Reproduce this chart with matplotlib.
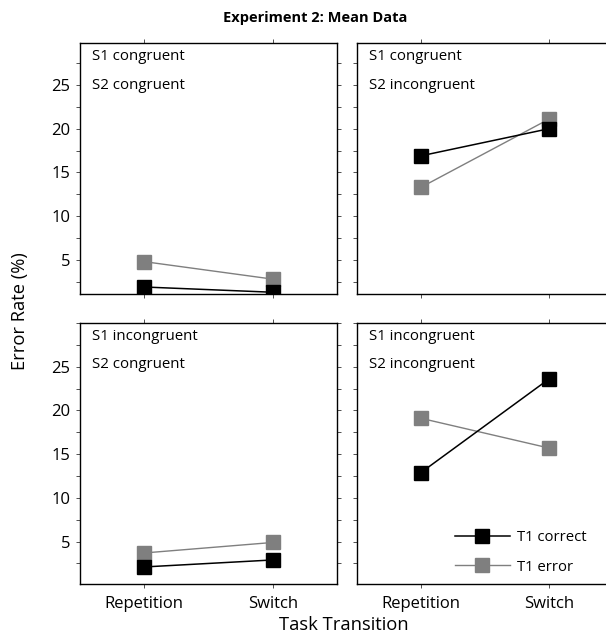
import numpy as np
import matplotlib
matplotlib.use('Agg')
import matplotlib.pyplot as plt
from matplotlib.ticker import MultipleLocator

plt.rcParams['font.family'] = ['Open Sans', 'DejaVu Sans']

# task transition categories
transitions = ['Repetition', 'Switch']

# panel labels (S1 / S2 congruency)
panel_labels = [('S1 congruent', 'S2 congruent'),
                ('S1 congruent', 'S2 incongruent'),
                ('S1 incongruent', 'S2 congruent'),
                ('S1 incongruent', 'S2 incongruent')]

# error rates (%) per panel: [repetition, switch]
t1_correct = [[1.9, 1.3],
              [16.9, 20.0],
              [2.1, 2.9],
              [12.9, 23.6]]
t1_error = [[4.8, 2.8],
            [13.3, 21.1],
            [3.7, 4.9],
            [19.1, 15.7]]

y_ticks = [5, 10, 15, 20, 25]

fig = plt.figure(figsize=(6.06, 6.4), dpi=100)

W, H = 606.0, 640.0
# (left, top, right, bottom) in pixels
boxes = [(80, 43, 337, 294),
         (357, 43, 613, 294),
         (80, 323, 337, 584),
         (357, 323, 613, 584)]
ylims = [(1.1, 29.8), (1.1, 29.8), (0.15, 30), (0.15, 30)]

x = np.arange(len(transitions))
axes = []
for i, (l, t, r, b) in enumerate(boxes):
    ax = fig.add_axes([l / W, 1 - b / H, (r - l) / W, (b - t) / H])
    axes.append(ax)
    ax.plot(x, t1_correct[i], '-s', color='black', lw=1.1, ms=10,
            mfc='black', mec='black', label='T1 correct', zorder=3)
    ax.plot(x, t1_error[i], '-s', color='#7f7f7f', lw=1.0, ms=10,
            mfc='#7f7f7f', mec='#7f7f7f', label='T1 error', zorder=2)
    ax.set_xlim(-0.5, 1.5)
    ax.set_ylim(*ylims[i])
    ax.yaxis.set_minor_locator(MultipleLocator(2.5))
    ax.set_yticks(y_ticks)
    ax.set_xticks(x)
    ax.tick_params(axis='both', which='both', direction='out', length=3,
                   width=0.6, labelsize=12, color='#333333')
    ax.tick_params(axis='x', top=True, pad=6)
    ax.tick_params(axis='y', right=True, which='both', pad=4)
    if i % 2 == 1:
        ax.set_yticklabels([])
    if i < 2:
        ax.set_xticklabels([])
    else:
        ax.set_xticklabels(transitions)
    for s in ax.spines.values():
        s.set_linewidth(1.0)
    ax.text(0.047, 0.945 if i < 2 else 0.95, panel_labels[i][0],
            transform=ax.transAxes, fontsize=10.8, va='center', ha='left')
    ax.text(0.047, 0.83 if i < 2 else 0.84, panel_labels[i][1],
            transform=ax.transAxes, fontsize=10.8, va='center', ha='left')

axes[3].legend(loc='lower left', bbox_to_anchor=(0.33, -0.015), frameon=False,
               fontsize=10.7, handlelength=3.7, handletextpad=0.5,
               labelspacing=0.95, numpoints=1)

fig.text(315 / W, 1 - 18 / H, 'Experiment 2: Mean Data', ha='center',
         va='center', fontsize=10.5, fontweight='bold')
fig.text(344 / W, 1 - 625 / H, 'Task Transition', ha='center', va='center',
         fontsize=13.2)
fig.text(20 / W, 1 - 311 / H, 'Error Rate (%)', ha='center', va='center',
         rotation=90, fontsize=13.2)

fig.savefig('out.png', dpi=100)
